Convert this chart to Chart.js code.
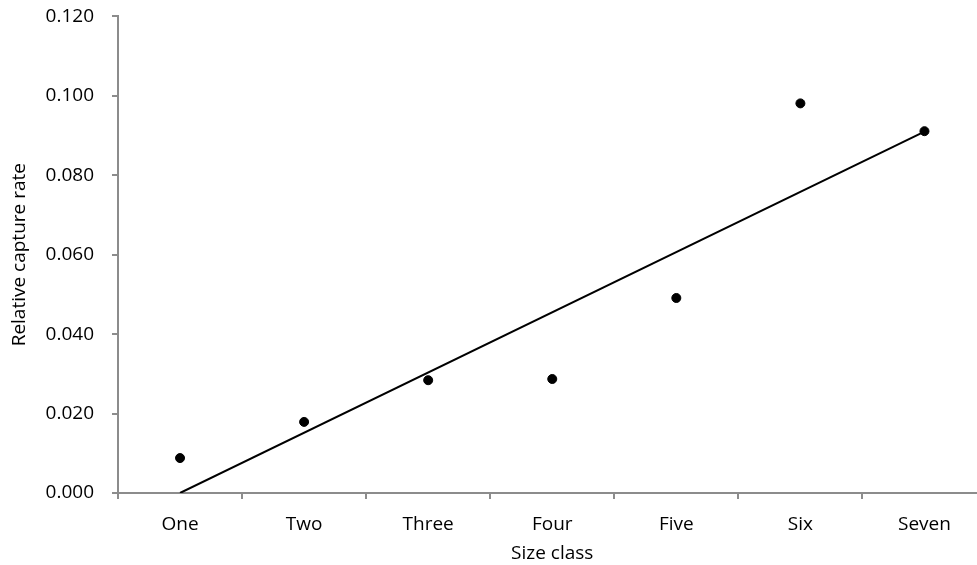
<!DOCTYPE html>
<html>
<head>
<meta charset="utf-8">
<script src="https://cdn.jsdelivr.net/npm/chart.js@4"></script>
<style>
  html, body { margin: 0; padding: 0; background: #fff; overflow: hidden; }
  #wrap { width: 992px; height: 578px; position: relative; margin-top: -13px; }
</style>
</head>
<body>
<div id="wrap"><canvas id="c"></canvas></div>
<script>
// size classes and relative capture rates
const sizeClasses = ['One', 'Two', 'Three', 'Four', 'Five', 'Six', 'Seven'];
const captureRate = [0.0088, 0.0179, 0.0284, 0.0287, 0.0491, 0.0981, 0.0911];
// linear trend line, only its two ends are drawn
const trendLine = [0.000, null, null, null, null, null, 0.091];
const yTicks = [0, 0.02, 0.04, 0.06, 0.08, 0.1, 0.12];

const FONT = { family: 'Open Sans', size: 19 };
const AX = '#8c8c8c';

const ctx = document.getElementById('c').getContext('2d');
new Chart(ctx, {
  type: 'line',
  data: {
    labels: sizeClasses,
    datasets: [
      {
        label: 'Trend', data: trendLine, spanGaps: true,
        borderColor: '#000', borderWidth: 2, pointRadius: 0, fill: false, order: 2
      },
      {
        label: 'Capture rate', data: captureRate, showLine: false,
        pointRadius: 4.5, pointBackgroundColor: '#000', pointBorderColor: '#000', order: 1
      }
    ]
  },
  options: {
    responsive: true, maintainAspectRatio: false, animation: false,
    layout: { padding: { left: 8, right: 5, top: 4, bottom: 0 } },
    plugins: { legend: { display: false }, tooltip: { enabled: false } },
    scales: {
      x: {
        offset: true,
        grid: { display: true, drawOnChartArea: false, tickLength: 6, color: AX, lineWidth: 2, offset: true },
        border: { color: AX, width: 2 },
        ticks: { color: '#000', font: FONT, padding: 14 },
        title: { display: true, text: 'Size class', color: '#000', font: FONT, padding: { top: 0, bottom: 0 } },
        afterFit: s => { s.height = 72; }
      },
      y: {
        min: 0, max: 0.12,
        afterBuildTicks: s => { s.ticks = yTicks.map(v => ({ value: v })); },
        grid: { display: true, drawOnChartArea: false, tickLength: 6, color: AX, lineWidth: 2 },
        border: { color: AX, width: 2 },
        ticks: { color: '#000', font: FONT, padding: 18, callback: v => v.toFixed(3) },
        title: { display: true, text: 'Relative capture rate', color: '#000', font: FONT, padding: { top: 0, bottom: 6 } },
        afterFit: s => { s.width = 110; }
      }
    }
  }
});
</script>
</body>
</html>
